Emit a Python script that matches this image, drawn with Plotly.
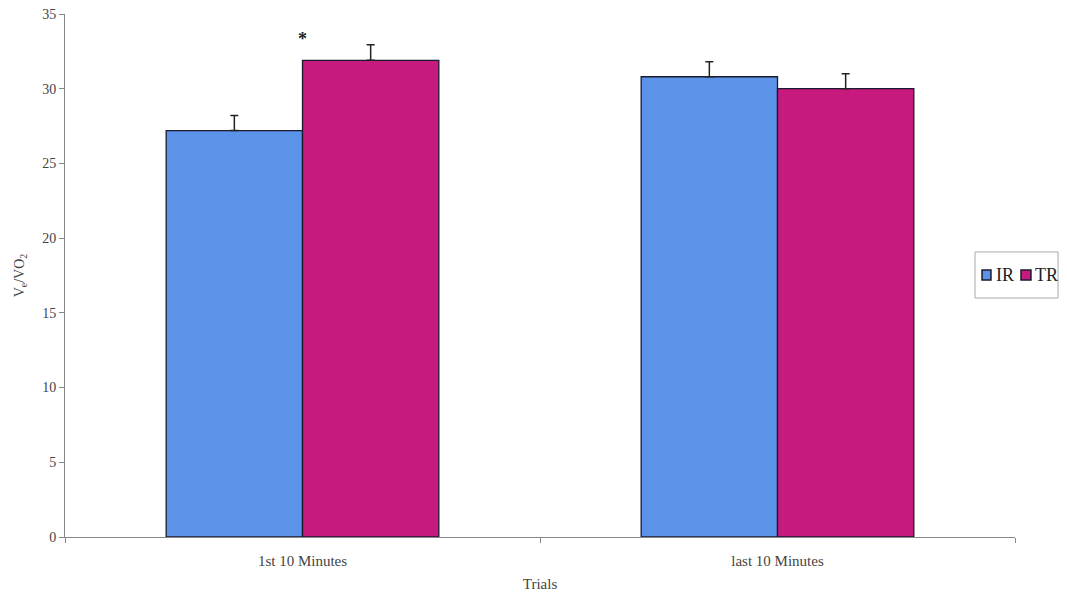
import plotly.graph_objects as go

categories = ["1st 10 Minutes", "last 10 Minutes"]
series_names = ["IR", "TR"]
ir_values = [27.2, 30.8]
ir_errors = [1.0, 1.0]
tr_values = [31.9, 30.0]
tr_errors = [1.05, 1.0]
y_ticks = [0, 5, 10, 15, 20, 25, 30, 35]
colors = ["#5b93e8", "#c8197f"]

fig = go.Figure()
for name, vals, errs, col in [("IR", ir_values, ir_errors, colors[0]),
                              ("TR", tr_values, tr_errors, colors[1])]:
    fig.add_trace(go.Bar(
        name=name, x=categories, y=vals, showlegend=False,
        marker=dict(color=col, line=dict(color="#1a1a2e", width=1.3)),
        error_y=dict(type="data", array=errs, symmetric=False, arrayminus=[0, 0],
                     color="#222", thickness=1.5, width=4),
    ))

fig.add_annotation(x=categories[0], y=33.3, text="<b>*</b>", showarrow=False,
                   font=dict(size=18, color="#222", family="Liberation Serif"))

# custom legend box (paper coords relative to plot area)
fig.add_shape(type="rect", xref="paper", yref="paper", x0=0.9579, x1=1.0453, y0=0.457, y1=0.545,
              line=dict(color="#aaa", width=1), fillcolor="white", layer="above")
legend_pos = [(0.9653, 0.9747, 0.9779), (1.0063, 1.0168, 1.0189)]
for name, col, (sx0, sx1, tx) in zip(series_names, colors, legend_pos):
    fig.add_shape(type="rect", xref="paper", yref="paper", x0=sx0, x1=sx1, y0=0.4915, y1=0.5105,
                  line=dict(color="#1a1a2e", width=1.5), fillcolor=col, layer="above")
    fig.add_annotation(xref="paper", yref="paper", x=tx, y=0.501, text=name, showarrow=False,
                       xanchor="left", yanchor="middle", xshift=0,
                       font=dict(size=18, family="Liberation Serif", color="#222"))

fig.update_layout(
    width=1051, height=584,
    margin=dict(l=57, r=44, t=6, b=55, autoexpand=False),
    paper_bgcolor="white", plot_bgcolor="white",
    barmode="group", bargap=0.426, bargroupgap=0,
    font=dict(family="Liberation Serif", color="#333", size=13),
    showlegend=False,
    xaxis=dict(
        automargin=False,
        showline=True, linecolor="#888", linewidth=1,
        ticks="outside", tickson="boundaries", ticklen=5, tickcolor="#888",
        ticklabelstandoff=10,
        title=dict(text="Trials", font=dict(size=15, color="#444"), standoff=16),
        tickfont=dict(size=15, color="#444"),
    ),
    yaxis=dict(
        automargin=False,
        range=[0, 35], tickvals=y_ticks, showgrid=False, zeroline=False,
        showline=True, linecolor="#888", linewidth=1,
        ticks="outside", ticklen=5, tickcolor="#888",
        ticklabeloverflow="allow",
        tickfont=dict(size=14, color="#444"),
        title=dict(text="V<sub>e</sub>/VO<sub>2</sub>", font=dict(size=14, color="#444"), standoff=14),
    ),
)

fig.write_html("out.html")
